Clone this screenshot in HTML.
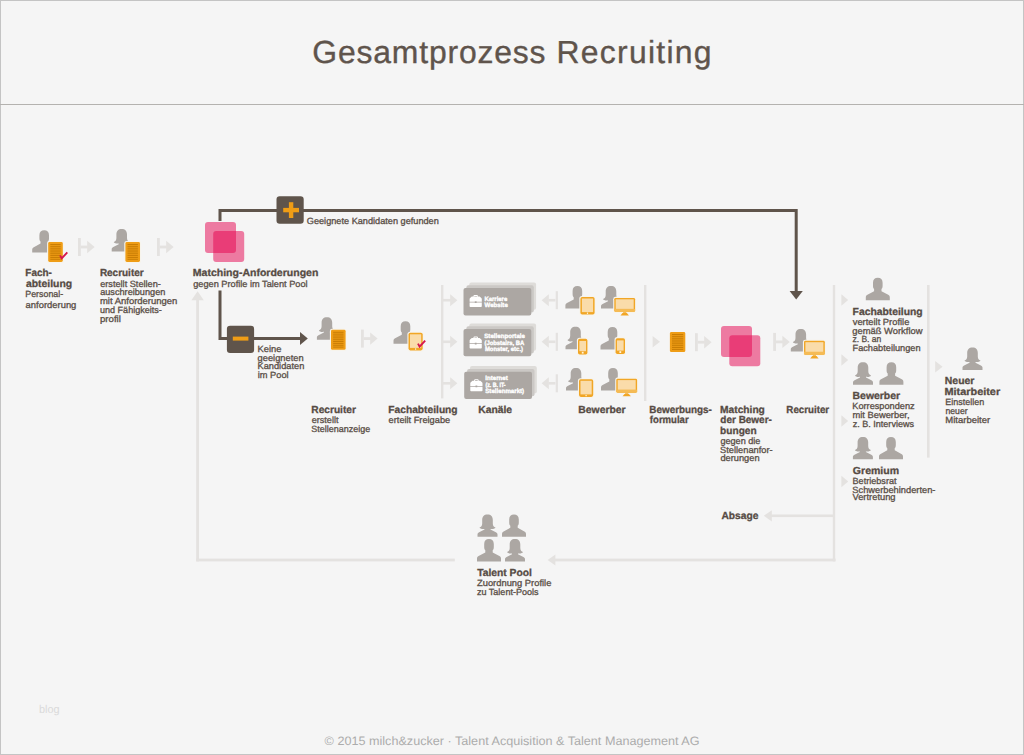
<!DOCTYPE html>
<html lang="de">
<head>
<meta charset="utf-8">
<title>Gesamtprozess Recruiting</title>
<style>
html,body{margin:0;padding:0;background:#f5f5f5;}
body{width:1024px;height:755px;overflow:hidden;font-family:"Liberation Sans",sans-serif;}
svg{display:block;position:absolute;left:0;top:0;}
text{font-family:"Liberation Sans",sans-serif;text-rendering:geometricPrecision;}
.b{font-weight:bold;font-size:10.2px;fill:#564b44;stroke:#564b44;stroke-width:0.3px;}
.r{font-size:9px;fill:#5a4f47;stroke:#5a4f47;stroke-width:0.3px;}
.w{font-weight:bold;font-size:6.2px;fill:#ffffff;stroke:#ffffff;stroke-width:0.35px;}
</style>
</head>
<body>
<svg width="1024" height="755" viewBox="0 0 1024 755">
<defs>
  <!-- male silhouette 24 x 22.4 -->
  <path id="m" d="M7.2,5 C7.2,1.6 9,0 12,0 C15,0 16.8,1.6 16.8,5 L16.8,8.3 C16.8,9.9 16.3,10.8 15.7,11.3 L15.7,13.4 L22.4,17 C23.5,17.6 24,18.5 24,19.6 L24,22.4 L0,22.4 L0,19.6 C0,18.5 0.5,17.6 1.6,17 L8.3,13.4 L8.3,11.3 C7.7,10.8 7.2,9.9 7.2,8.3 Z"/>
  <!-- female silhouette 20 x 22.4 -->
  <path id="f" d="M10,0 C13.5,0 15.3,2 15.3,5.5 L15.3,9 C15.3,11.4 16.4,12.5 18,13.1 C17.4,14.3 15.4,14.9 13,14.5 L13,15.2 L18.4,17.9 C19.5,18.4 20,19.2 20,20.1 L20,22.4 L0,22.4 L0,20.1 C0,19.2 0.5,18.4 1.6,17.9 L7,15.2 L7,14.5 C4.6,14.9 2.6,14.3 2,13.1 C3.6,12.5 4.7,11.4 4.7,9 L4.7,5.5 C4.7,2 6.5,0 10,0 Z"/>
</defs>

<!-- frame -->
<rect x="0.5" y="0.5" width="1023" height="754" fill="#f5f5f5" stroke="#c4c4c4" stroke-width="1"/>
<rect x="0" y="104" width="1024" height="1" fill="#b4b2af"/>

<!-- title -->
<text x="312.3" y="63.3" font-size="31.9" fill="#5f544c" stroke="#5f544c" stroke-width="0.35" textLength="233.2" lengthAdjust="spacing">Gesamtprozess</text>
<text x="556.4" y="63.3" font-size="31.9" fill="#5f544c" stroke="#5f544c" stroke-width="0.35" textLength="155.2" lengthAdjust="spacing">Recruiting</text>

<!-- footer -->
<text x="324.6" y="745" font-size="12.2" fill="#acacac" textLength="375" lengthAdjust="spacingAndGlyphs">© 2015 milch&amp;zucker · Talent Acquisition &amp; Talent Management AG</text>
<text x="39" y="713.2" font-size="11.3" fill="#dadada" textLength="20.6" lengthAdjust="spacingAndGlyphs">blog</text>

<rect x="196.2" y="298" width="2.8" height="263.4" fill="#e4e2e0"/>
<path d="M191.4,300.2 L197.6,291.2 L203.8,300.2 Z" fill="#e4e2e0"/>
<rect x="196.2" y="558.6" width="258.6" height="2.8" fill="#e4e2e0"/>
<rect x="554" y="558.6" width="281.6" height="2.8" fill="#e4e2e0"/>
<path d="M555.4,554.4 L547.6,560 L555.4,565.6 Z" fill="#e4e2e0"/>
<rect x="832.8" y="285" width="2.4" height="276.4" fill="#e4e2e0"/>
<rect x="771" y="514.5" width="62" height="2.6" fill="#e4e2e0"/>
<path d="M771.8,510.2 L763.8,515.8 L771.8,521.4 Z" fill="#e4e2e0"/>
<rect x="927" y="285" width="2.6" height="172.6" fill="#e4e2e0"/>
<rect x="441" y="285" width="2.4" height="113.4" fill="#e4e2e0"/>
<rect x="644" y="285" width="2.4" height="116" fill="#e4e2e0"/>
<rect x="443" y="298.9" width="8" height="2.6" fill="#e4e2e0"/>
<path d="M450.2,294.2 L457.4,300.2 L450.2,306.2 Z" fill="#e4e2e0"/>
<rect x="555.6999999999999" y="291.2" width="2.2" height="18" fill="#e4e2e0"/>
<rect x="548.4" y="298.9" width="7" height="2.6" fill="#e4e2e0"/>
<path d="M548.8,294.2 L541.6,300.2 L548.8,306.2 Z" fill="#e4e2e0"/>
<rect x="443" y="340.5" width="8" height="2.6" fill="#e4e2e0"/>
<path d="M450.2,335.8 L457.4,341.8 L450.2,347.8 Z" fill="#e4e2e0"/>
<rect x="555.6999999999999" y="332.8" width="2.2" height="18" fill="#e4e2e0"/>
<rect x="548.4" y="340.5" width="7" height="2.6" fill="#e4e2e0"/>
<path d="M548.8,335.8 L541.6,341.8 L548.8,347.8 Z" fill="#e4e2e0"/>
<rect x="443" y="382.0" width="8" height="2.6" fill="#e4e2e0"/>
<path d="M450.2,377.3 L457.4,383.3 L450.2,389.3 Z" fill="#e4e2e0"/>
<rect x="555.6999999999999" y="374.3" width="2.2" height="18" fill="#e4e2e0"/>
<rect x="548.4" y="382.0" width="7" height="2.6" fill="#e4e2e0"/>
<path d="M548.8,377.3 L541.6,383.3 L548.8,389.3 Z" fill="#e4e2e0"/>
<path d="M652.6,335.95 L660.0,341.7 L652.6,347.45 Z" fill="#e4e2e0"/>
<path d="M841.4,294.25 L848.1999999999999,300 L841.4,305.75 Z" fill="#e4e2e0"/>
<path d="M841.4,354.25 L848.1999999999999,360 L841.4,365.75 Z" fill="#e4e2e0"/>
<path d="M841.4,415.25 L848.1999999999999,421 L841.4,426.75 Z" fill="#e4e2e0"/>
<path d="M841.4,475.75 L848.1999999999999,481.5 L841.4,487.25 Z" fill="#e4e2e0"/>
<path d="M935.2,361.05 L942.6,366.8 L935.2,372.55 Z" fill="#e4e2e0"/>
<rect x="78" y="238.0" width="2.8" height="18" fill="#e4e2e0"/>
<rect x="80.8" y="245.6" width="7" height="2.8" fill="#e4e2e0"/>
<path d="M87.2,240.8 L94.6,247 L87.2,253.2 Z" fill="#e4e2e0"/>
<rect x="157" y="238.0" width="2.8" height="18" fill="#e4e2e0"/>
<rect x="159.8" y="245.6" width="7" height="2.8" fill="#e4e2e0"/>
<path d="M166.2,240.8 L173.6,247 L166.2,253.2 Z" fill="#e4e2e0"/>
<rect x="361" y="329.6" width="2.8" height="18" fill="#e4e2e0"/>
<rect x="363.8" y="337.20000000000005" width="7" height="2.8" fill="#e4e2e0"/>
<path d="M370.2,332.40000000000003 L377.6,338.6 L370.2,344.8 Z" fill="#e4e2e0"/>
<rect x="695" y="333.2" width="2.8" height="18" fill="#e4e2e0"/>
<rect x="697.8" y="340.8" width="7" height="2.8" fill="#e4e2e0"/>
<path d="M704.2,336.0 L711.6,342.2 L704.2,348.4 Z" fill="#e4e2e0"/>
<rect x="773.2" y="332.9" width="2.8" height="18" fill="#e4e2e0"/>
<rect x="776.0" y="340.5" width="7" height="2.8" fill="#e4e2e0"/>
<path d="M782.4000000000001,335.7 L789.8000000000001,341.9 L782.4000000000001,348.09999999999997 Z" fill="#e4e2e0"/>
<path d="M220,221 L220,210.5 L796.2,210.5 L796.2,292" fill="none" stroke="#5f544b" stroke-width="3"/>
<path d="M789.6,291 L802.8,291 L796.2,299.4 Z" fill="#5f544b"/>
<path d="M220,290.4 L220,338.5 L301,338.5" fill="none" stroke="#5f544b" stroke-width="3"/>
<path d="M300,332 L307.8,338.5 L300,345 Z" fill="#5f544b"/>
<rect x="276.5" y="196.3" width="27.2" height="27.4" rx="3.2" fill="#5f544b"/>
<rect x="283.2" y="207.9" width="15.8" height="4.4" fill="#ef9d16"/>
<rect x="288.9" y="202.2" width="4.4" height="15.8" fill="#ef9d16"/>
<rect x="226.9" y="325.7" width="27.2" height="27.2" rx="3.2" fill="#5f544b"/>
<rect x="232.8" y="336.6" width="15.6" height="4" fill="#ef9d16"/>
<use href="#m" x="32.2" y="230.2" fill="#aca7a3"/>
<rect x="47.1" y="240.9" width="16.8" height="22.2" rx="2.2" fill="#f7f4ec"/>
<rect x="48.2" y="242" width="14.6" height="20" rx="1.4" fill="#ef9d16"/>
<rect x="50.300000000000004" y="244.00" width="10.399999999999999" height="1" fill="#c97d04"/>
<rect x="50.300000000000004" y="245.85" width="10.399999999999999" height="1" fill="#c97d04"/>
<rect x="50.300000000000004" y="247.70" width="10.399999999999999" height="1" fill="#c97d04"/>
<rect x="50.300000000000004" y="249.55" width="10.399999999999999" height="1" fill="#c97d04"/>
<rect x="50.300000000000004" y="251.40" width="10.399999999999999" height="1" fill="#c97d04"/>
<rect x="50.300000000000004" y="253.25" width="10.399999999999999" height="1" fill="#c97d04"/>
<rect x="50.300000000000004" y="255.10" width="10.399999999999999" height="1" fill="#c97d04"/>
<rect x="50.300000000000004" y="256.95" width="10.399999999999999" height="1" fill="#c97d04"/>
<rect x="50.300000000000004" y="258.80" width="10.399999999999999" height="1" fill="#c97d04"/>
<path d="M60.1,255.39999999999998 L61.7,258.4 L67.3,252.39999999999998" fill="none" stroke="#d6174d" stroke-width="1.9" stroke-linejoin="miter"/>
<use href="#f" x="111.7" y="229" fill="#aca7a3"/>
<rect x="124.30000000000001" y="240.9" width="16.8" height="22.2" rx="2.2" fill="#f7f4ec"/>
<rect x="125.4" y="242" width="14.6" height="20" rx="1.4" fill="#ef9d16"/>
<rect x="127.5" y="244.00" width="10.399999999999999" height="1" fill="#c97d04"/>
<rect x="127.5" y="245.85" width="10.399999999999999" height="1" fill="#c97d04"/>
<rect x="127.5" y="247.70" width="10.399999999999999" height="1" fill="#c97d04"/>
<rect x="127.5" y="249.55" width="10.399999999999999" height="1" fill="#c97d04"/>
<rect x="127.5" y="251.40" width="10.399999999999999" height="1" fill="#c97d04"/>
<rect x="127.5" y="253.25" width="10.399999999999999" height="1" fill="#c97d04"/>
<rect x="127.5" y="255.10" width="10.399999999999999" height="1" fill="#c97d04"/>
<rect x="127.5" y="256.95" width="10.399999999999999" height="1" fill="#c97d04"/>
<rect x="127.5" y="258.80" width="10.399999999999999" height="1" fill="#c97d04"/>
<rect x="205" y="222" width="31" height="31" rx="3" fill="#e6004e" fill-opacity="0.5"/>
<rect x="213.2" y="231" width="31" height="31" rx="3" fill="#e6004e" fill-opacity="0.5"/>
<use href="#f" x="316.9" y="317.3" fill="#aca7a3"/>
<rect x="329.9" y="328.7" width="16.8" height="22.2" rx="2.2" fill="#f7f4ec"/>
<rect x="331" y="329.8" width="14.6" height="20" rx="1.4" fill="#ef9d16"/>
<rect x="333.1" y="331.80" width="10.399999999999999" height="1" fill="#c97d04"/>
<rect x="333.1" y="333.65" width="10.399999999999999" height="1" fill="#c97d04"/>
<rect x="333.1" y="335.50" width="10.399999999999999" height="1" fill="#c97d04"/>
<rect x="333.1" y="337.35" width="10.399999999999999" height="1" fill="#c97d04"/>
<rect x="333.1" y="339.20" width="10.399999999999999" height="1" fill="#c97d04"/>
<rect x="333.1" y="341.05" width="10.399999999999999" height="1" fill="#c97d04"/>
<rect x="333.1" y="342.90" width="10.399999999999999" height="1" fill="#c97d04"/>
<rect x="333.1" y="344.75" width="10.399999999999999" height="1" fill="#c97d04"/>
<rect x="333.1" y="346.60" width="10.399999999999999" height="1" fill="#c97d04"/>
<use href="#m" x="393.5" y="321.3" fill="#aca7a3"/>
<rect x="407.4" y="331.7" width="16.4" height="19.8" rx="2.8" fill="#f7f4ec"/>
<rect x="408.5" y="332.8" width="14.2" height="17.6" rx="1.8" fill="#f1a626"/>
<rect x="410.0" y="334.3" width="11.2" height="13.600000000000001" fill="#fadcaa"/>
<rect x="415.0" y="348.40000000000003" width="1.2" height="1.3" fill="#fff6dd"/>
<path d="M418.0,343.6 L419.6,346.6 L425.20000000000005,340.6" fill="none" stroke="#d6174d" stroke-width="1.9" stroke-linejoin="miter"/>
<rect x="469.3" y="282.5" width="66.8" height="27.3" rx="2" fill="#dedcd9"/>
<rect x="466.4" y="285.3" width="67.39999999999999" height="27.3" rx="2" fill="#cbc8c5"/>
<rect x="463.5" y="288.1" width="67.8" height="27.3" rx="2" fill="#aca7a3"/>
<g transform="translate(469.6,295.0)" fill="#fff"><path d="M3.8,1.8 L3.8,1.3 C3.8,0.4 4.4,0 5.3,0 L6.9,0 C7.8,0 8.4,0.4 8.4,1.3 L8.4,1.8 L7.4,1.8 L7.4,1.4 C7.4,1 7.2,0.9 6.8,0.9 L5.4,0.9 C5,0.9 4.8,1 4.8,1.4 L4.8,1.8 Z"/><path d="M2.2,1.6 L10,1.6 L11.7,3 C12,3.2 12.2,3.5 12.2,4 L12.2,6.8 L7,6.8 L7,6.2 L5.2,6.2 L5.2,6.8 L0,6.8 L0,4 C0,3.5 0.2,3.2 0.5,3 Z"/><path d="M0,7.5 L5.2,7.5 L5.2,8.1 L7,8.1 L7,7.5 L12.2,7.5 L12.2,11.2 C12.2,11.7 11.9,12 11.4,12 L0.8,12 C0.3,12 0,11.7 0,11.2 Z"/></g>
<text class="w" x="484.38" y="300.9" textLength="22.88" lengthAdjust="spacingAndGlyphs">Karriere</text>
<text class="w" x="484.50" y="307.0" textLength="23.31" lengthAdjust="spacingAndGlyphs">Website</text>
<rect x="469.3" y="323.4" width="66.8" height="27.3" rx="2" fill="#dedcd9"/>
<rect x="466.4" y="326.2" width="67.39999999999999" height="27.3" rx="2" fill="#cbc8c5"/>
<rect x="463.5" y="329" width="67.8" height="27.3" rx="2" fill="#aca7a3"/>
<g transform="translate(469.6,336.5)" fill="#fff"><path d="M3.8,1.8 L3.8,1.3 C3.8,0.4 4.4,0 5.3,0 L6.9,0 C7.8,0 8.4,0.4 8.4,1.3 L8.4,1.8 L7.4,1.8 L7.4,1.4 C7.4,1 7.2,0.9 6.8,0.9 L5.4,0.9 C5,0.9 4.8,1 4.8,1.4 L4.8,1.8 Z"/><path d="M2.2,1.6 L10,1.6 L11.7,3 C12,3.2 12.2,3.5 12.2,4 L12.2,6.8 L7,6.8 L7,6.2 L5.2,6.2 L5.2,6.8 L0,6.8 L0,4 C0,3.5 0.2,3.2 0.5,3 Z"/><path d="M0,7.5 L5.2,7.5 L5.2,8.1 L7,8.1 L7,7.5 L12.2,7.5 L12.2,11.2 C12.2,11.7 11.9,12 11.4,12 L0.8,12 C0.3,12 0,11.7 0,11.2 Z"/></g>
<text class="w" x="484.27" y="337.8" textLength="40.70" lengthAdjust="spacingAndGlyphs">Stellenportale</text>
<text class="w" x="484.43" y="344.6" textLength="39.84" lengthAdjust="spacingAndGlyphs">(Jobstairs, BA</text>
<text class="w" x="484.88" y="350.7" textLength="38.12" lengthAdjust="spacingAndGlyphs">Monster, etc.)</text>
<rect x="470.0" y="366.09999999999997" width="66.8" height="27.3" rx="2" fill="#dedcd9"/>
<rect x="467.09999999999997" y="368.9" width="67.39999999999999" height="27.3" rx="2" fill="#cbc8c5"/>
<rect x="464.2" y="371.7" width="67.8" height="27.3" rx="2" fill="#aca7a3"/>
<g transform="translate(470.3,379.2)" fill="#fff"><path d="M3.8,1.8 L3.8,1.3 C3.8,0.4 4.4,0 5.3,0 L6.9,0 C7.8,0 8.4,0.4 8.4,1.3 L8.4,1.8 L7.4,1.8 L7.4,1.4 C7.4,1 7.2,0.9 6.8,0.9 L5.4,0.9 C5,0.9 4.8,1 4.8,1.4 L4.8,1.8 Z"/><path d="M2.2,1.6 L10,1.6 L11.7,3 C12,3.2 12.2,3.5 12.2,4 L12.2,6.8 L7,6.8 L7,6.2 L5.2,6.2 L5.2,6.8 L0,6.8 L0,4 C0,3.5 0.2,3.2 0.5,3 Z"/><path d="M0,7.5 L5.2,7.5 L5.2,8.1 L7,8.1 L7,7.5 L12.2,7.5 L12.2,11.2 C12.2,11.7 11.9,12 11.4,12 L0.8,12 C0.3,12 0,11.7 0,11.2 Z"/></g>
<text class="w" x="485.32" y="379.7" textLength="22.44" lengthAdjust="spacingAndGlyphs">Internet</text>
<text class="w" x="485.46" y="386.6" textLength="20.16" lengthAdjust="spacingAndGlyphs">(z. B. IT-</text>
<text class="w" x="485.27" y="392.8" textLength="38.88" lengthAdjust="spacingAndGlyphs">Stellenmarkt)</text>
<use href="#m" x="565.4" y="286" fill="#aca7a3"/>
<rect x="579.3" y="295.9" width="16.4" height="19.8" rx="2.8" fill="#f7f4ec"/>
<rect x="580.4" y="297" width="14.2" height="17.6" rx="1.8" fill="#f1a626"/>
<rect x="581.9" y="298.5" width="11.2" height="13.600000000000001" fill="#fadcaa"/>
<rect x="586.9" y="312.6" width="1.2" height="1.3" fill="#fff6dd"/>
<use href="#f" x="601" y="286" fill="#aca7a3"/>
<rect x="613.1999999999999" y="296.79999999999995" width="23.0" height="16.2" rx="2.4" fill="#f7f4ec"/>
<rect x="614.3" y="297.9" width="20.8" height="14" rx="1.4" fill="#f1a626"/>
<path d="M614.3,308.9 L635.0999999999999,308.9 L635.0999999999999,310.5 Q635.0999999999999,311.9 633.6999999999999,311.9 L615.6999999999999,311.9 Q614.3,311.9 614.3,310.5 Z" fill="#f5bb55"/>
<rect x="615.6999999999999" y="299.29999999999995" width="18.0" height="9.6" fill="#fadcaa"/>
<rect x="623.0999999999999" y="311.9" width="3.2" height="1.4" fill="#f5bb55"/>
<path d="M622.4999999999999,313.09999999999997 L626.9,313.09999999999997 L628.9,315.5 L620.4999999999999,315.5 Z" fill="#f1a626"/>
<use href="#f" x="565.5" y="326.8" fill="#aca7a3"/>
<rect x="576.9" y="337.7" width="11.600000000000001" height="18.0" rx="2.8" fill="#f7f4ec"/>
<rect x="578" y="338.8" width="9.4" height="15.8" rx="1.8" fill="#f1a626"/>
<rect x="579.4" y="341.0" width="6.6000000000000005" height="10.200000000000001" fill="#fadcaa"/>
<rect x="581.8000000000001" y="351.8" width="1.8" height="1.8" fill="#fff6dd"/>
<use href="#m" x="600.5" y="327" fill="#aca7a3"/>
<rect x="614.5" y="337.09999999999997" width="11.600000000000001" height="18.0" rx="2.8" fill="#f7f4ec"/>
<rect x="615.6" y="338.2" width="9.4" height="15.8" rx="1.8" fill="#f1a626"/>
<rect x="617.0" y="340.4" width="6.6000000000000005" height="10.200000000000001" fill="#fadcaa"/>
<rect x="619.4000000000001" y="351.2" width="1.8" height="1.8" fill="#fff6dd"/>
<use href="#f" x="566" y="368" fill="#aca7a3"/>
<rect x="577.9" y="378.2" width="16.4" height="19.8" rx="2.8" fill="#f7f4ec"/>
<rect x="579" y="379.3" width="14.2" height="17.6" rx="1.8" fill="#f1a626"/>
<rect x="580.5" y="380.8" width="11.2" height="13.600000000000001" fill="#fadcaa"/>
<rect x="585.5" y="394.90000000000003" width="1.2" height="1.3" fill="#fff6dd"/>
<use href="#m" x="601" y="368" fill="#aca7a3"/>
<rect x="615.1999999999999" y="377.59999999999997" width="23.0" height="16.2" rx="2.4" fill="#f7f4ec"/>
<rect x="616.3" y="378.7" width="20.8" height="14" rx="1.4" fill="#f1a626"/>
<path d="M616.3,389.7 L637.0999999999999,389.7 L637.0999999999999,391.3 Q637.0999999999999,392.7 635.6999999999999,392.7 L617.6999999999999,392.7 Q616.3,392.7 616.3,391.3 Z" fill="#f5bb55"/>
<rect x="617.6999999999999" y="380.09999999999997" width="18.0" height="9.6" fill="#fadcaa"/>
<rect x="625.0999999999999" y="392.7" width="3.2" height="1.4" fill="#f5bb55"/>
<path d="M624.4999999999999,393.9 L628.9,393.9 L630.9,396.3 L622.4999999999999,396.3 Z" fill="#f1a626"/>
<rect x="669.9" y="332" width="15.4" height="20.1" rx="1.4" fill="#ef9d16"/>
<rect x="672.0" y="334.00" width="11.2" height="1" fill="#c97d04"/>
<rect x="672.0" y="335.86" width="11.2" height="1" fill="#c97d04"/>
<rect x="672.0" y="337.73" width="11.2" height="1" fill="#c97d04"/>
<rect x="672.0" y="339.59" width="11.2" height="1" fill="#c97d04"/>
<rect x="672.0" y="341.45" width="11.2" height="1" fill="#c97d04"/>
<rect x="672.0" y="343.31" width="11.2" height="1" fill="#c97d04"/>
<rect x="672.0" y="345.18" width="11.2" height="1" fill="#c97d04"/>
<rect x="672.0" y="347.04" width="11.2" height="1" fill="#c97d04"/>
<rect x="672.0" y="348.90" width="11.2" height="1" fill="#c97d04"/>
<rect x="721" y="326" width="31" height="31" rx="3" fill="#e6004e" fill-opacity="0.5"/>
<rect x="729.3" y="335.2" width="31" height="31" rx="3" fill="#e6004e" fill-opacity="0.5"/>
<use href="#f" x="790.8" y="329" fill="#aca7a3"/>
<rect x="802.9" y="339.7" width="23.0" height="16.2" rx="2.4" fill="#f7f4ec"/>
<rect x="804" y="340.8" width="20.8" height="14" rx="1.4" fill="#f1a626"/>
<path d="M804,351.8 L824.8,351.8 L824.8,353.40000000000003 Q824.8,354.8 823.4,354.8 L805.4,354.8 Q804,354.8 804,353.40000000000003 Z" fill="#f5bb55"/>
<rect x="805.4" y="342.2" width="18.0" height="9.6" fill="#fadcaa"/>
<rect x="812.8" y="354.8" width="3.2" height="1.4" fill="#f5bb55"/>
<path d="M812.1999999999999,356.0 L816.6,356.0 L818.6,358.40000000000003 L810.1999999999999,358.40000000000003 Z" fill="#f1a626"/>
<use href="#m" x="865.8" y="277.8" fill="#aca7a3"/>
<use href="#f" x="853" y="362.3" fill="#aca7a3"/>
<use href="#m" x="879.4" y="362.3" fill="#aca7a3"/>
<use href="#f" x="852.9" y="436.9" fill="#aca7a3"/>
<use href="#m" x="879" y="436.9" fill="#aca7a3"/>
<use href="#f" x="962.5" y="347.5" fill="#aca7a3"/>
<use href="#f" x="477.5" y="514.4" fill="#aca7a3"/>
<use href="#m" x="502" y="514.4" fill="#aca7a3"/>
<use href="#m" x="477" y="539" fill="#aca7a3"/>
<use href="#f" x="505" y="539" fill="#aca7a3"/>
<text class="b" x="25.37" y="276.0" textLength="26.49" lengthAdjust="spacingAndGlyphs">Fach-</text>
<text class="b" x="25.97" y="286.8" textLength="46.18" lengthAdjust="spacingAndGlyphs">abteilung</text>
<text class="r" x="25.31" y="296.9" textLength="37.83" lengthAdjust="spacingAndGlyphs">Personal-</text>
<text class="r" x="25.64" y="307.8" textLength="50.73" lengthAdjust="spacingAndGlyphs">anforderung</text>
<text class="b" x="99.88" y="276.0" textLength="43.76" lengthAdjust="spacingAndGlyphs">Recruiter</text>
<text class="r" x="100.16" y="286.9" textLength="60.72" lengthAdjust="spacingAndGlyphs">erstellt Stellen-</text>
<text class="r" x="100.16" y="294.9" textLength="65.19" lengthAdjust="spacingAndGlyphs">auschreibungen</text>
<text class="r" x="99.91" y="304.4" textLength="77.46" lengthAdjust="spacingAndGlyphs">mit Anforderungen</text>
<text class="r" x="99.94" y="313.2" textLength="61.93" lengthAdjust="spacingAndGlyphs">und Fähigkeits-</text>
<text class="r" x="99.90" y="321.8" textLength="20.99" lengthAdjust="spacingAndGlyphs">profil</text>
<text class="b" x="192.84" y="275.9" textLength="125.51" lengthAdjust="spacingAndGlyphs">Matching-Anforderungen</text>
<text class="r" x="193.16" y="286.7" textLength="114.46" lengthAdjust="spacingAndGlyphs">gegen Profile im Talent Pool</text>
<text class="r" x="306.79" y="223.7" textLength="132.04" lengthAdjust="spacingAndGlyphs">Geeignete Kandidaten gefunden</text>
<text class="r" x="257.53" y="351.6" textLength="23.91" lengthAdjust="spacingAndGlyphs">Keine</text>
<text class="r" x="257.64" y="360.8" textLength="45.95" lengthAdjust="spacingAndGlyphs">geeigneten</text>
<text class="r" x="257.53" y="368.7" textLength="46.80" lengthAdjust="spacingAndGlyphs">Kandidaten</text>
<text class="r" x="257.67" y="377.6" textLength="30.96" lengthAdjust="spacingAndGlyphs">im Pool</text>
<text class="b" x="311.36" y="412.5" textLength="44.55" lengthAdjust="spacingAndGlyphs">Recruiter</text>
<text class="r" x="311.65" y="422.7" textLength="26.89" lengthAdjust="spacingAndGlyphs">erstellt</text>
<text class="r" x="311.35" y="431.7" textLength="58.81" lengthAdjust="spacingAndGlyphs">Stellenanzeige</text>
<text class="b" x="388.34" y="412.5" textLength="69.29" lengthAdjust="spacingAndGlyphs">Fachabteilung</text>
<text class="r" x="388.64" y="422.7" textLength="61.51" lengthAdjust="spacingAndGlyphs">erteilt Freigabe</text>
<text class="b" x="478.34" y="412.5" textLength="33.76" lengthAdjust="spacingAndGlyphs">Kanäle</text>
<text class="b" x="578.33" y="412.5" textLength="47.27" lengthAdjust="spacingAndGlyphs">Bewerber</text>
<text class="b" x="649.37" y="412.7" textLength="62.50" lengthAdjust="spacingAndGlyphs">Bewerbungs-</text>
<text class="b" x="649.87" y="422.9" textLength="38.76" lengthAdjust="spacingAndGlyphs">formular</text>
<text class="b" x="720.10" y="412.7" textLength="44.77" lengthAdjust="spacingAndGlyphs">Matching</text>
<text class="b" x="720.37" y="422.9" textLength="51.50" lengthAdjust="spacingAndGlyphs">der Bewer-</text>
<text class="b" x="720.11" y="433.8" textLength="36.49" lengthAdjust="spacingAndGlyphs">bungen</text>
<text class="r" x="720.40" y="444.0" textLength="40.03" lengthAdjust="spacingAndGlyphs">gegen die</text>
<text class="r" x="720.08" y="452.7" textLength="52.58" lengthAdjust="spacingAndGlyphs">Stellenanfor-</text>
<text class="r" x="720.40" y="460.5" textLength="39.21" lengthAdjust="spacingAndGlyphs">derungen</text>
<text class="b" x="786.37" y="412.7" textLength="42.77" lengthAdjust="spacingAndGlyphs">Recruiter</text>
<text class="b" x="852.59" y="314.6" textLength="70.05" lengthAdjust="spacingAndGlyphs">Fachabteilung</text>
<text class="r" x="852.71" y="325.0" textLength="56.71" lengthAdjust="spacingAndGlyphs">verteilt Profile</text>
<text class="r" x="852.39" y="333.5" textLength="70.09" lengthAdjust="spacingAndGlyphs">gemäß Workflow</text>
<text class="r" x="852.42" y="341.5" textLength="28.87" lengthAdjust="spacingAndGlyphs">z. B. an</text>
<text class="r" x="852.53" y="350.6" textLength="68.05" lengthAdjust="spacingAndGlyphs">Fachabteilungen</text>
<text class="b" x="852.59" y="398.5" textLength="47.53" lengthAdjust="spacingAndGlyphs">Bewerber</text>
<text class="r" x="852.28" y="409.4" textLength="62.39" lengthAdjust="spacingAndGlyphs">Korrespondenz</text>
<text class="r" x="852.41" y="417.5" textLength="57.16" lengthAdjust="spacingAndGlyphs">mit Bewerber,</text>
<text class="r" x="852.65" y="426.5" textLength="61.39" lengthAdjust="spacingAndGlyphs">z. B. Interviews</text>
<text class="b" x="852.85" y="473.5" textLength="46.27" lengthAdjust="spacingAndGlyphs">Gremium</text>
<text class="r" x="852.54" y="483.6" textLength="43.99" lengthAdjust="spacingAndGlyphs">Betriebsrat</text>
<text class="r" x="852.33" y="492.5" textLength="83.07" lengthAdjust="spacingAndGlyphs">Schwerbehinderten-</text>
<text class="r" x="852.45" y="500.2" textLength="43.14" lengthAdjust="spacingAndGlyphs">Vertretung</text>
<text class="b" x="944.84" y="383.5" textLength="29.56" lengthAdjust="spacingAndGlyphs">Neuer</text>
<text class="b" x="944.55" y="394.8" textLength="55.58" lengthAdjust="spacingAndGlyphs">Mitarbeiter</text>
<text class="r" x="945.30" y="404.7" textLength="39.01" lengthAdjust="spacingAndGlyphs">Einstellen</text>
<text class="r" x="945.46" y="413.5" textLength="22.18" lengthAdjust="spacingAndGlyphs">neuer</text>
<text class="r" x="945.26" y="422.6" textLength="44.91" lengthAdjust="spacingAndGlyphs">Mitarbeiter</text>
<text class="b" x="721.50" y="518.6" textLength="36.88" lengthAdjust="spacingAndGlyphs">Absage</text>
<text class="b" x="477.16" y="575.8" textLength="54.80" lengthAdjust="spacingAndGlyphs">Talent Pool</text>
<text class="r" x="476.99" y="585.6" textLength="74.41" lengthAdjust="spacingAndGlyphs">Zuordnung Profile</text>
<text class="r" x="476.91" y="594.8" textLength="61.64" lengthAdjust="spacingAndGlyphs">zu Talent-Pools</text>
</svg>
</body>
</html>
